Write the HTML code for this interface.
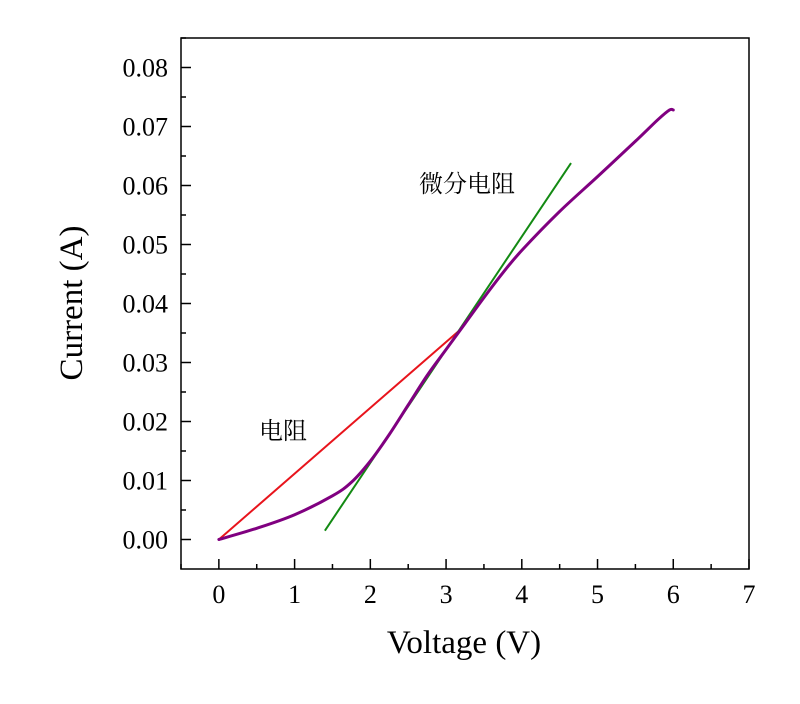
<!DOCTYPE html>
<html><head><meta charset="utf-8"><style>body{margin:0;background:#fff}svg{display:block}</style></head>
<body>
<svg id="chart" width="800" height="704" xmlns="http://www.w3.org/2000/svg" font-family="'Liberation Serif', serif"></svg>
<script>
const xTicks=[0,1,2,3,4,5,6,7];
const yTicks=[0,0.01,0.02,0.03,0.04,0.05,0.06,0.07,0.08];
const yTickLabels=["0.00","0.01","0.02","0.03","0.04","0.05","0.06","0.07","0.08"];
const curveV=[0,0.5,1,1.5,1.75,2,2.25,2.5,2.75,3,3.25,3.5,3.75,4,4.5,5,5.5,5.8,5.95,6];
const curveI=[0,0.0019,0.0042,0.0074,0.0097,0.0133,0.0178,0.0228,0.0278,0.0322,0.0366,0.041,0.0452,0.049,0.0556,0.0615,0.0675,0.0712,0.0728,0.0728];
const redV=[0,3.2], redI=[0,0.0357];
const greenV=[1.4,4.65], greenI=[0.0015,0.0638];
const L=181,R=749,T=38,B=569;
const sx=v=>L+(v+0.5)/7.5*(R-L);
const sy=i=>B-(i+0.005)/0.09*(B-T);
const svg=document.getElementById('chart');
const NS='http://www.w3.org/2000/svg';
function mk(t,a,txt){const e=document.createElementNS(NS,t);for(const k in a)e.setAttribute(k,a[k]);if(txt!==undefined)e.textContent=txt;svg.appendChild(e);return e;}
let e;
e=mk('rect',{x:L,y:T,width:R-L,height:B-T,fill:'none',stroke:'#000','stroke-width':1.5});


xTicks.forEach(v=>{
 e=mk('line',{x1:sx(v),x2:sx(v),y1:B,y2:B-10,stroke:'#000','stroke-width':1.5});
 
 
 e=mk('line',{x1:sx(v-0.5),x2:sx(v-0.5),y1:B,y2:B-5,stroke:'#000','stroke-width':1.5});
 
 
 e=mk('text',{x:sx(v),y:B+34,'font-size':26,'text-anchor':'middle'},String(v));
 
 
});
yTicks.forEach((v,k)=>{
 e=mk('line',{x1:L,x2:L+10,y1:sy(v),y2:sy(v),stroke:'#000','stroke-width':1.5});
 
 
 e=mk('line',{x1:L,x2:L+5,y1:sy(v+0.005),y2:sy(v+0.005),stroke:'#000','stroke-width':1.5});
 
 
 e=mk('text',{x:L-13,y:sy(v)+9,'font-size':26,'text-anchor':'end'},yTickLabels[k]);
 
 
});
e=mk('line',{x1:sx(redV[0]),y1:sy(redI[0]),x2:sx(redV[1]),y2:sy(redI[1]),stroke:'#e8141c','stroke-width':2});


e=mk('line',{x1:sx(greenV[0]),y1:sy(greenI[0]),x2:sx(greenV[1]),y2:sy(greenI[1]),stroke:'#138a13','stroke-width':2});


const P=curveV.map((v,k)=>[sx(v),sy(curveI[k])]);
let d='M'+P[0][0]+','+P[0][1];
for(let k=0;k<P.length-1;k++){
 const p0=P[Math.max(0,k-1)],p1=P[k],p2=P[k+1],p3=P[Math.min(P.length-1,k+2)];
 const c1=[p1[0]+(p2[0]-p0[0])/6,p1[1]+(p2[1]-p0[1])/6];
 const c2=[p2[0]-(p3[0]-p1[0])/6,p2[1]-(p3[1]-p1[1])/6];
 d+=' C'+c1[0]+','+c1[1]+' '+c2[0]+','+c2[1]+' '+p2[0]+','+p2[1];
}
e=mk('path',{d:d,fill:'none',stroke:'#800080','stroke-width':3,'stroke-linejoin':'round','stroke-linecap':'round'});


e=mk('text',{x:259,y:439,'font-size':24,'font-family':"'Noto Serif CJK SC', serif"},'电阻');


e=mk('text',{x:419,y:192,'font-size':24,'font-family':"'Noto Serif CJK SC', serif"},'微分电阻');


e=mk('text',{x:464,y:653,'font-size':33,'text-anchor':'middle'},'Voltage (V)');


e=mk('text',{x:0,y:0,'font-size':33,'text-anchor':'middle',transform:'translate(82,303) rotate(-90)'},'Current (A)');


</script>
</body></html>
